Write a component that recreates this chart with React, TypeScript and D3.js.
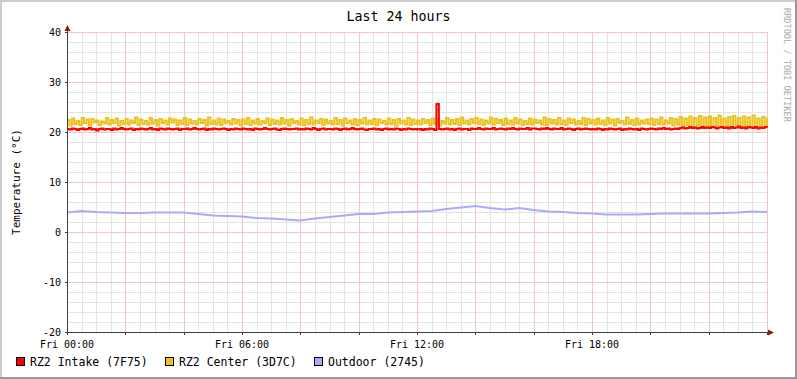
import React from 'react';
import * as d3 from 'd3';

const TITLE = 'Last 24 hours';
const Y_LABEL = 'Temperature (°C)';
const WATERMARK = 'RRDTOOL / TOBI OETIKER';
const Y_TICKS = [-20, -10, 0, 10, 20, 30, 40];
const X_TICK_HOURS = [0, 6, 12, 18];
const X_TICK_LABELS = ['Fri 00:00', 'Fri 06:00', 'Fri 12:00', 'Fri 18:00'];
const SERIES_NAMES = ['RZ2 Intake (7F75)', 'RZ2 Center (3D7C)', 'Outdoor (2745)'];
const SERIES_COLORS = ['#FF0000', '#EAC31E', '#AAAAFF'];

// 5-minute samples, 00:00 .. 24:00
const INTAKE = [
  20.6,20.5,20.7,20.6,20.4,20.6,20.7,20.5,20.6,20.8,20.5,20.6,20.3,20.6,20.7,20.5,20.6,20.6,20.4,20.7,20.5,20.6,20.8,20.6,
  20.5,20.6,20.7,20.4,20.6,20.5,20.7,20.6,20.5,20.6,20.8,20.5,20.6,20.4,20.7,20.6,20.5,20.7,20.6,20.5,20.6,20.7,20.4,20.6,
  20.6,20.7,20.5,20.6,20.8,20.6,20.5,20.6,20.7,20.4,20.6,20.5,20.7,20.6,20.5,20.6,20.7,20.6,20.4,20.6,20.5,20.7,20.6,20.5,
  20.7,20.6,20.5,20.6,20.4,20.7,20.6,20.5,20.6,20.8,20.6,20.5,20.6,20.7,20.5,20.4,20.6,20.7,20.6,20.5,20.6,20.6,20.7,20.5,
  20.6,20.5,20.7,20.6,20.5,20.8,20.6,20.4,20.6,20.7,20.5,20.6,20.6,20.5,20.7,20.6,20.4,20.6,20.7,20.5,20.6,20.8,20.6,20.5,
  20.6,20.7,20.5,20.4,20.6,20.6,20.7,20.5,20.6,20.4,20.6,20.7,20.5,20.6,20.5,20.7,20.6,20.4,20.6,20.5,20.7,20.6,20.5,20.6,
  20.5,20.6,20.4,20.6,20.5,20.7,20.6,20.4,25.6,20.6,20.5,20.6,20.7,20.5,20.6,20.4,20.6,20.7,20.5,20.6,20.6,20.4,20.7,20.6,
  20.6,20.8,20.6,20.5,20.7,20.6,20.6,20.8,20.5,20.6,20.7,20.6,20.5,20.7,20.6,20.8,20.6,20.5,20.7,20.6,20.6,20.8,20.5,20.7,
  20.7,20.6,20.5,20.7,20.6,20.8,20.6,20.5,20.7,20.6,20.6,20.8,20.5,20.6,20.7,20.6,20.4,20.6,20.7,20.5,20.6,20.7,20.6,20.5,
  20.6,20.5,20.7,20.6,20.4,20.6,20.5,20.7,20.6,20.5,20.6,20.7,20.4,20.6,20.5,20.7,20.6,20.5,20.6,20.4,20.7,20.6,20.5,20.6,
  20.7,20.6,20.5,20.7,20.6,20.8,20.6,20.7,20.5,20.6,20.7,20.6,20.8,20.9,20.7,20.8,21.0,20.8,20.9,20.7,20.8,21.0,20.8,20.9,
  20.8,21.0,20.9,20.7,20.9,21.0,20.8,20.9,20.7,21.0,20.8,20.9,21.1,20.8,20.9,20.7,21.0,20.9,20.8,21.0,20.7,20.9,20.8,21.0,
  20.9
];

const CENTER = [
  22.4,21.3,22.7,21.6,22.2,21.4,22.8,21.8,22.5,21.3,22.6,21.9,22.3,21.4,22.1,21.7,22.8,21.5,22.4,21.8,22.7,21.3,22.2,21.6,
  22.6,21.5,22.3,21.8,22.9,21.4,22.5,21.6,22.2,21.5,22.8,21.7,22.4,21.3,22.6,21.8,22.3,21.5,22.7,21.9,22.5,21.4,22.3,21.6,
  22.8,21.4,22.5,21.7,22.2,21.5,22.6,21.8,22.4,21.3,22.9,21.6,22.3,21.5,22.7,21.4,22.5,21.8,22.2,21.5,22.6,21.7,22.4,21.3,
  22.5,21.6,22.8,21.4,22.3,21.7,22.6,21.5,22.2,21.8,22.7,21.4,22.5,21.6,22.3,21.5,22.8,21.7,22.4,21.3,22.6,21.8,22.2,21.5,
  22.7,21.4,22.4,21.6,22.9,21.5,22.3,21.8,22.6,21.4,22.5,21.7,22.2,21.5,22.8,21.6,22.4,21.3,22.7,21.8,22.3,21.5,22.6,21.4,
  22.4,21.7,22.8,21.5,22.3,21.6,22.6,21.4,22.5,21.8,22.2,21.5,22.7,21.6,22.4,21.3,22.6,21.7,22.3,21.5,22.8,21.4,22.5,21.6,
  22.3,21.5,22.6,21.8,22.4,21.4,22.7,21.6,22.5,21.3,22.2,21.7,22.8,21.5,22.4,21.6,22.6,21.4,22.9,21.7,22.3,21.5,22.6,21.8,
  22.8,21.6,22.5,21.4,22.3,21.7,22.9,21.5,22.6,21.8,22.4,21.4,22.7,21.6,22.3,21.5,22.8,21.7,22.5,21.4,22.2,21.6,22.7,21.5,
  22.5,21.8,22.3,21.5,22.9,21.4,22.6,21.7,22.4,21.5,22.8,21.6,22.3,21.4,22.7,21.8,22.5,21.5,22.2,21.6,22.8,21.4,22.6,21.7,
  22.4,21.5,22.7,21.6,22.3,21.4,22.8,21.7,22.5,21.3,22.6,21.8,22.2,21.5,22.9,21.6,22.4,21.4,22.7,21.5,22.3,21.7,22.5,21.6,
  22.7,21.4,22.5,21.6,22.9,21.5,22.3,21.7,22.8,21.3,22.6,21.5,23.0,21.2,22.7,21.4,23.1,21.1,22.8,21.3,23.2,21.0,22.9,21.2,
  23.1,21.0,22.8,21.3,23.3,21.1,22.7,21.2,23.0,20.9,23.2,21.3,22.8,21.0,23.1,21.2,22.9,21.0,23.3,21.1,22.7,21.3,23.0,21.1,
  22.9
];

// 30-minute samples, 00:00 .. 24:00
const OUTDOOR = [
  3.9,4.2,4.0,3.9,3.8,3.8,3.9,3.9,3.9,3.6,3.3,3.2,3.1,2.8,2.7,2.5,2.3,2.7,3.0,3.3,3.6,3.6,3.9,4.0,
  4.1,4.2,4.6,4.9,5.2,4.8,4.5,4.8,4.4,4.1,4.0,3.8,3.7,3.5,3.5,3.5,3.6,3.7,3.7,3.7,3.7,3.8,3.9,4.1,
  4.0
];

const W = 797;
const H = 379;
const PL = 67;
const PT = 32;
const PW = 700;
const PH = 300;
const FONT = '"DejaVu Sans Mono", monospace';

export default function App() {
  const x = d3.scaleLinear().domain([0, 24]).range([PL, PL + PW]);
  const y = d3.scaleLinear().domain([-20, 40]).range([PT + PH, PT]);

  const minorY = d3.range(-20, 40.001, 2).filter((v) => v % 10 !== 0);
  const majorY = d3.range(-20, 40.001, 10);
  const minorX = d3.range(0, 24.001, 0.5).filter((v) => v % 2 !== 0);
  const majorX = d3.range(0, 24.001, 2);

  const step = d3
    .line<number>()
    .x((_, i) => x((i * 5) / 60))
    .y((d) => y(d))
    .curve(d3.curveStepAfter);
  const smooth = d3
    .line<number>()
    .x((_, i) => x(i * 0.5))
    .y((d) => y(d))
    .curve(d3.curveLinear);

  const legendX = [16, 165, 314];

  return (
    <div>
      <style>{`body{margin:0}`}</style>
      <svg width={W} height={H} style={{ display: 'block' }} fontFamily={FONT}>
        <rect x={0} y={0} width={W} height={H} fill="#ffffff" />
        {/* shaded frame */}
        <rect x={0} y={0} width={W} height={2} fill="#CBCBCB" />
        <rect x={0} y={0} width={2} height={H} fill="#CBCBCB" />
        <rect x={0} y={H - 2} width={W} height={2} fill="#999999" />
        <rect x={W - 2} y={0} width={2} height={H} fill="#999999" />

        {/* minor grid */}
        <g stroke="#e3e3e3" strokeWidth={1}>
          {minorY.map((v) => (
            <line key={'my' + v} x1={PL} x2={PL + PW} y1={Math.round(y(v)) + 0.5} y2={Math.round(y(v)) + 0.5} />
          ))}
          {minorX.map((v) => (
            <line key={'mx' + v} y1={PT} y2={PT + PH} x1={Math.round(x(v)) + 0.5} x2={Math.round(x(v)) + 0.5} />
          ))}
        </g>
        {/* major grid */}
        <g stroke="#f5c6c6" strokeWidth={1}>
          {majorY.map((v) => (
            <line key={'My' + v} x1={PL} x2={PL + PW} y1={Math.round(y(v)) + 0.5} y2={Math.round(y(v)) + 0.5} />
          ))}
          {majorX.map((v) => (
            <line key={'Mx' + v} y1={PT} y2={PT + PH} x1={Math.round(x(v)) + 0.5} x2={Math.round(x(v)) + 0.5} />
          ))}
        </g>

        {/* series */}
        <path d={step(CENTER) || ''} fill="none" stroke={SERIES_COLORS[1]} strokeWidth={2} />
        <path d={step(INTAKE) || ''} fill="none" stroke={SERIES_COLORS[0]} strokeWidth={2} />
        <path d={smooth(OUTDOOR) || ''} fill="none" stroke={SERIES_COLORS[2]} strokeWidth={2} />

        {/* axes */}
        <g stroke="#404040" strokeWidth={1}>
          <line x1={PL + 0.5} x2={PL + 0.5} y1={PT + PH} y2={PT - 4} />
          <line x1={PL} x2={PL + PW + 4} y1={PT + PH + 0.5} y2={PT + PH + 0.5} />
          {majorY.map((v) => (
            <line key={'ty' + v} x1={PL - 2} x2={PL} y1={Math.round(y(v)) + 0.5} y2={Math.round(y(v)) + 0.5} />
          ))}
          {majorX.map((v) => (
            <line key={'tx' + v} y1={PT + PH} y2={PT + PH + 3} x1={Math.round(x(v)) + 0.5} x2={Math.round(x(v)) + 0.5} />
          ))}
        </g>
        <path d={`M${PL + 0.5},${PT - 7} L${PL - 2.5},${PT - 1} L${PL + 3.5},${PT - 1} Z`} fill="#8B1A1A" />
        <path d={`M${PL + PW + 7},${PT + PH + 0.5} L${PL + PW + 1},${PT + PH - 2.5} L${PL + PW + 1},${PT + PH + 3.5} Z`} fill="#8B1A1A" />

        {/* tick labels */}
        <g fontSize={10} fill="#000">
          {Y_TICKS.map((v) => (
            <text key={'yl' + v} x={61} y={y(v) + 3.5} textAnchor="end">
              {v}
            </text>
          ))}
          {X_TICK_HOURS.map((h, i) => (
            <text key={'xl' + h} x={x(h)} y={348} textAnchor="middle">
              {X_TICK_LABELS[i]}
            </text>
          ))}
        </g>

        {/* title */}
        <text x={W / 2} y={21} textAnchor="middle" fontSize={13.3} fill="#000">
          {TITLE}
        </text>

        {/* y label */}
        <text
          transform={`translate(20,${PT + PH / 2}) rotate(-90)`}
          textAnchor="middle"
          fontSize={11}
          fill="#000"
        >
          {Y_LABEL}
        </text>

        {/* watermark */}
        <text
          transform={`translate(784,8) rotate(90)`}
          textAnchor="start"
          fontSize={8.6}
          fill="#aaaaaa"
        >
          {WATERMARK}
        </text>

        {/* legend */}
        {SERIES_NAMES.map((name, i) => (
          <g key={name}>
            <rect x={legendX[i] + 0.5} y={357.5} width={8} height={8} fill={SERIES_COLORS[i]} stroke="#000" strokeWidth={1} />
            <text x={legendX[i] + 14} y={365.5} fontSize={11.5} fill="#000">
              {name}
            </text>
          </g>
        ))}
      </svg>
    </div>
  );
}
